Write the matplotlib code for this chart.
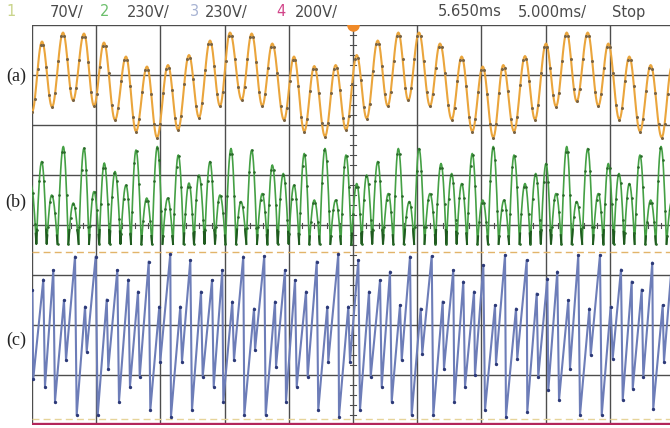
import numpy as np
import matplotlib
matplotlib.use("Agg")
import matplotlib.pyplot as plt

# screen units: x in divisions (5 ms/div), y in divisions from centre line

# (a) channel 1, alternating trough/peak points
ch1_x = [0.000, 0.156, 0.312, 0.483, 0.639, 0.810, 0.966, 1.121, 1.293, 1.464,
         1.620, 1.791, 1.947, 2.118, 2.274, 2.445, 2.601, 2.773, 2.928, 3.084,
         3.266, 3.422, 3.587, 3.743, 3.925, 4.081, 4.241, 4.397, 4.564, 4.730,
         4.891, 5.058, 5.213, 5.385, 5.540, 5.706, 5.861, 6.028, 6.199, 6.355,
         6.537, 6.693, 6.858, 7.020, 7.185, 7.341, 7.508, 7.679, 7.835, 8.006,
         8.162, 8.329, 8.484, 8.656, 8.821, 8.977, 9.148, 9.304, 9.470, 9.637,
         9.808, 9.969]
ch1_y = [2.26, 3.67, 2.36, 3.85, 2.49, 3.83, 2.38, 3.65, 2.10, 3.37,
         1.87, 3.17, 1.75, 3.20, 1.90, 3.40, 2.15, 3.69, 2.38, 3.85,
         2.50, 3.83, 2.38, 3.63, 2.10, 3.37, 1.87, 3.18, 1.77, 3.20,
         1.90, 3.40, 2.13, 3.69, 2.38, 3.85, 2.49, 3.85, 2.38, 3.63,
         2.11, 3.37, 1.87, 3.17, 1.75, 3.20, 1.87, 3.38, 2.11, 3.63,
         2.37, 3.85, 2.47, 3.85, 2.38, 3.63, 2.11, 3.37, 1.87, 3.20,
         1.75, 3.18]

# (b) channel 2, hump tops; valleys sit on ch2_floor
ch2_x = [-0.016, 0.151, 0.307, 0.488, 0.643, 0.810, 0.966, 1.126, 1.293, 1.464,
         1.620, 1.787, 1.952, 2.114, 2.279, 2.445, 2.601, 2.773, 2.928, 3.100,
         3.255, 3.422, 3.587, 3.743, 3.914, 4.081, 4.241, 4.397, 4.564, 4.730,
         4.891, 5.058, 5.213, 5.385, 5.550, 5.706, 5.877, 6.028, 6.199, 6.371,
         6.537, 6.693, 6.858, 7.020, 7.185, 7.352, 7.508, 7.679, 7.846, 8.006,
         8.162, 8.329, 8.484, 8.656, 8.821, 8.977, 9.143, 9.304, 9.470, 9.637,
         9.798, 9.969]
ch2_y = [0.80, 1.27, 0.60, 1.57, 0.44, 1.54, 0.67, 1.24, 1.07, 0.80,
         1.50, 0.54, 1.57, 0.54, 1.40, 0.84, 1.00, 1.27, 0.60, 1.53,
         0.47, 1.50, 0.63, 1.20, 1.03, 0.80, 1.43, 0.50, 1.53, 0.50,
         1.40, 0.83, 1.00, 1.27, 0.63, 1.53, 0.47, 1.53, 0.63, 1.23,
         1.03, 0.83, 1.43, 0.50, 1.57, 0.50, 1.40, 0.83, 1.03, 1.23,
         0.63, 1.57, 0.47, 1.53, 0.63, 1.23, 1.03, 0.83, 1.40, 0.50,
         1.57, 0.50]
ch2_floor = -0.38

# (c) channel 3, start point then alternating trough/peak
ch3_x = [0.005, 0.020, 0.176, 0.202, 0.332, 0.358, 0.498, 0.530, 0.670, 0.696,
         0.826, 0.852, 0.992, 1.023, 1.164, 1.188, 1.329, 1.355, 1.500, 1.526,
         1.651, 1.678, 1.818, 1.843, 1.983, 1.998, 2.154, 2.165, 2.310, 2.336,
         2.466, 2.492, 2.632, 2.659, 2.804, 2.830, 2.964, 2.980, 3.120, 3.146,
         3.291, 3.307, 3.458, 3.474, 3.618, 3.640, 3.785, 3.801, 3.941, 3.956,
         4.097, 4.123, 4.268, 4.294, 4.435, 4.459, 4.600, 4.615, 4.771, 4.782,
         4.927, 4.953, 5.083, 5.109, 5.249, 5.276, 5.421, 5.447, 5.576, 5.603,
         5.732, 5.759, 5.888, 5.914, 6.054, 6.079, 6.226, 6.251, 6.397, 6.417,
         6.562, 6.578, 6.718, 6.745, 6.885, 6.900, 7.030, 7.056, 7.212, 7.227,
         7.368, 7.383, 7.539, 7.559, 7.706, 7.715, 7.861, 7.886, 8.027, 8.042,
         8.182, 8.209, 8.354, 8.380, 8.509, 8.536, 8.681, 8.703, 8.847, 8.874,
         9.014, 9.045, 9.174, 9.201, 9.341, 9.357, 9.497, 9.522, 9.662, 9.677,
         9.824, 9.844, 9.977]
ch3_y = [-1.30, -3.07, -1.09, -3.23, -0.90, -3.53, -1.50, -2.70, -0.63, -3.80,
         -1.63, -2.53, -0.63, -3.80, -1.49, -2.87, -0.90, -3.53, -1.09, -3.23,
         -1.33, -3.03, -0.73, -3.70, -1.63, -2.73, -0.58, -3.83, -1.63, -2.73,
         -0.70, -3.70, -1.33, -3.03, -1.10, -3.23, -0.90, -3.53, -1.53, -2.70,
         -0.63, -3.80, -1.67, -2.50, -0.62, -3.80, -1.53, -2.83, -0.90, -3.53,
         -1.10, -3.23, -1.33, -3.03, -0.73, -3.70, -1.63, -2.73, -0.58, -3.83,
         -1.63, -2.73, -0.70, -3.70, -1.33, -3.03, -1.10, -3.23, -0.93, -3.53,
         -1.60, -2.70, -0.63, -3.80, -1.67, -2.57, -0.62, -3.80, -1.53, -2.87,
         -0.90, -3.53, -1.13, -3.23, -1.33, -3.00, -0.80, -3.70, -1.60, -2.77,
         -0.60, -3.83, -1.67, -2.67, -0.70, -3.73, -1.37, -3.03, -1.07, -3.30,
         -0.93, -3.50, -1.50, -2.87, -0.60, -3.80, -1.67, -2.60, -0.60, -3.80,
         -1.63, -2.67, -0.89, -3.50, -1.13, -3.27, -1.29, -3.03, -0.75, -3.67,
         -1.60, -2.73, -0.62]

ch4_level = -3.97
ref_levels = [-0.54, -3.88]

header = [("1", "#c9d48a"), ("70V/", "#4a4a4a"), ("2", "#6cbf6c"), ("230V/", "#4a4a4a"),
          ("3", "#a7b3d3"), ("230V/", "#4a4a4a"), ("4", "#d2458a"), ("200V/", "#4a4a4a"),
          ("5.650ms", "#4a4a4a"), ("5.000ms/", "#4a4a4a"), ("Stop", "#4a4a4a")]
header_px = [6, 50, 100, 127, 190, 205, 276, 295, 438, 518, 612]
panel_labels = ["(a)", "(b)", "(c)"]
panel_label_py = [76, 202, 340]


def cos_join(xs, ys, n=14):
    px, py = [], []
    for i in range(len(xs) - 1):
        t = np.linspace(0, 1, n, endpoint=False)
        px.append(xs[i] + (xs[i + 1] - xs[i]) * t)
        py.append(ys[i] + (ys[i + 1] - ys[i]) * (1 - np.cos(np.pi * t)) / 2)
    px.append([xs[-1]]); py.append([ys[-1]])
    return np.concatenate(px), np.concatenate(py)


def humps(xs, ys, floor, n=10):
    px, py = [], []
    xs = np.asarray(xs); ys = np.asarray(ys)
    mids = (xs[:-1] + xs[1:]) / 2
    left = np.concatenate([[xs[0] - (mids[0] - xs[0])], mids])
    right = np.concatenate([mids, [xs[-1] + (xs[-1] - mids[-1])]])
    for i in range(len(xs)):
        s = np.linspace(0, 1, n)
        px.append(left[i] + (xs[i] - left[i]) * s)
        py.append(floor + (ys[i] - floor) * np.sin(np.pi / 2 * s))
        px.append(xs[i] + (right[i] - xs[i]) * s[1:])
        py.append(floor + (ys[i] - floor) * np.cos(np.pi / 2 * s[1:]))
    return np.concatenate(px), np.concatenate(py)


fig = plt.figure(figsize=(6.7, 4.28), dpi=100)
ax = fig.add_axes([32 / 670, 3 / 428, 642 / 670, 400 / 428])
ax.set_xlim(0, 10)
ax.set_ylim(-4, 4)
ax.axis("off")

gc = "#4d4d4d"
for v in range(0, 11):
    ax.axvline(v, color=gc, lw=1.0, zorder=1)
for h in range(-4, 5):
    ax.axhline(h, color=gc, lw=1.0, zorder=1)
# sub-division ticks on the centre lines
for yy in np.arange(-4, 4.01, 0.2):
    ax.plot([4.96, 5.04], [yy, yy], color=gc, lw=0.8, zorder=1)
for xx in np.arange(0, 10.01, 0.2):
    ax.plot([xx, xx], [-0.05, 0.05], color=gc, lw=0.8, zorder=1)

ax.axhline(ref_levels[0], color="#e2b46a", lw=1.0, ls=(0, (5, 3)), zorder=2)
ax.axhline(ref_levels[1], color="#e6d49a", lw=1.0, ls=(0, (5, 3)), zorder=2)

# channel 1
x1, y1 = cos_join(ch1_x, ch1_y)
ax.plot(x1, y1, color="#eaa53c", lw=1.5, zorder=3)
ax.plot(x1[::4], y1[::4], ls="none", marker="o", ms=1.2, color="#7b6443", zorder=4)

# channel 2
x2, y2 = humps(ch2_x, ch2_y, ch2_floor)
ax.plot(x2, y2, color="#45a045", lw=1.2, zorder=3)
ax.plot(x2, np.where(y2 < -0.08, y2, np.nan), color="#1f5a1f", lw=1.5, zorder=4)
ax.plot(x2[::4], y2[::4], ls="none", marker="o", ms=0.9, color="#2a6a2a", zorder=4)

# channel 3
ax.plot(ch3_x, ch3_y, color="#6d7db8", lw=1.5, zorder=3)
ax.plot(ch3_x, ch3_y, ls="none", marker="o", ms=1.4, color="#2d3a78", zorder=4)

# channel 4 flat trace
ax.axhline(ch4_level, color="#b3265a", lw=2.4, zorder=5)

# trigger marker
ax.plot([5], [4], marker="o", ms=8, color="#f08a28", zorder=6, clip_on=True)

for (txt, col), px in zip(header, header_px):
    fig.text(px / 670, 1 - 12 / 428, txt, color=col, fontsize=10.5,
             family=["Liberation Sans Narrow", "DejaVu Sans"],
             ha="left", va="center")

for lab, py in zip(panel_labels, panel_label_py):
    fig.text(16 / 670, 1 - py / 428, lab, fontsize=13, family="Liberation Serif",
             ha="center", va="center", color="#222222")

fig.savefig("out.png", dpi=100)
